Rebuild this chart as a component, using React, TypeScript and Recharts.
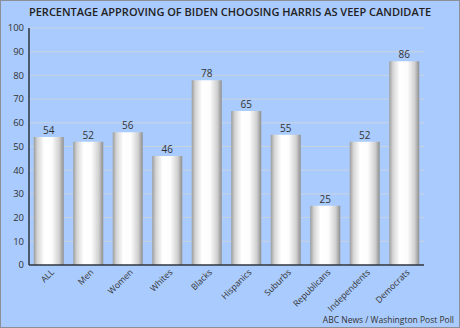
import React from "react";
import { BarChart, Bar, XAxis, YAxis, CartesianGrid, LabelList } from "recharts";

const categories = ["ALL", "Men", "Women", "Whites", "Blacks", "Hispanics", "Suburbs", "Republicans", "Independents", "Democrats"];
const approving = [54, 52, 56, 46, 78, 65, 55, 25, 52, 86];
const yTicks = [0, 10, 20, 30, 40, 50, 60, 70, 80, 90, 100];

const data = categories.map((name, i) => ({ name, value: approving[i] }));

const FONT = "'Open Sans', 'DejaVu Sans', sans-serif";
const BG = "#aacbfd";
const AXIS = "#2c3440";

const RotTick = (props: any) => {
  const { x, y, payload } = props;
  return (
    <g transform={`translate(${x + 3},${y - 3})`}>
      <text transform="rotate(-45)" textAnchor="end" dy={4} fontSize={8.6} fill="#333" fontFamily={FONT}>
        {payload.value}
      </text>
    </g>
  );
};

export default function App() {
  return (
    <div style={{ position: "fixed", left: 0, top: 0, width: 460, height: 328, background: BG, fontFamily: FONT, overflow: "hidden" }}>
      <div style={{ position: "absolute", left: 0, width: 460, top: 5, textAlign: "center", fontSize: 11, fontWeight: 600, color: "#222", lineHeight: "14px" }}>
        PERCENTAGE APPROVING OF BIDEN CHOOSING HARRIS AS VEEP CANDIDATE
      </div>
      <div style={{ position: "absolute", right: 6, top: 315, fontSize: 8.5, color: "#333", lineHeight: "10px" }}>
        ABC News / Washington Post Poll
      </div>
      <div style={{ position: "absolute", left: 0, top: 0 }}>
        <BarChart width={460} height={328} data={data} margin={{ top: 28, right: 36, bottom: 0, left: 0 }} barCategoryGap="12%">
          <defs>
            <linearGradient id="cyl" x1="0" y1="0" x2="1" y2="0">
              <stop offset="0%" stopColor="#9c9c9c" />
              <stop offset="12%" stopColor="#d4d4d4" />
              <stop offset="35%" stopColor="#ffffff" />
              <stop offset="60%" stopColor="#fdfdfd" />
              <stop offset="85%" stopColor="#d0d0d0" />
              <stop offset="100%" stopColor="#8e8e8e" />
            </linearGradient>
          </defs>
          <CartesianGrid vertical={false} stroke="#c9d3e0" strokeWidth={1} />
          <XAxis dataKey="name" interval={0} tickLine={false} axisLine={{ stroke: AXIS, strokeWidth: 1.5 }} tick={<RotTick />} height={63} />
          <XAxis xAxisId="top" dataKey="name" orientation="top" height={0} tick={false} tickLine={false} axisLine={{ stroke: AXIS, strokeWidth: 1.5 }} />
          <YAxis domain={[0, 100]} ticks={yTicks} interval={0} width={29} tickLine={false} tickSize={3} tickMargin={2} axisLine={{ stroke: AXIS, strokeWidth: 1.5 }} tick={{ fontSize: 9.5, fill: "#333", fontFamily: FONT }} />
          <YAxis yAxisId="right" orientation="right" domain={[0, 100]} width={0} tick={false} tickLine={false} axisLine={{ stroke: AXIS, strokeWidth: 1.5 }} />
          <Bar dataKey="value" fill="url(#cyl)" isAnimationActive={false}>
            <LabelList dataKey="value" position="top" offset={3} fontSize={10} fill="#333" fontFamily={FONT} />
          </Bar>
        </BarChart>
      </div>
      <div style={{ position: "absolute", inset: 0, border: "1px solid #8a8f99", pointerEvents: "none" }} />
    </div>
  );
}
